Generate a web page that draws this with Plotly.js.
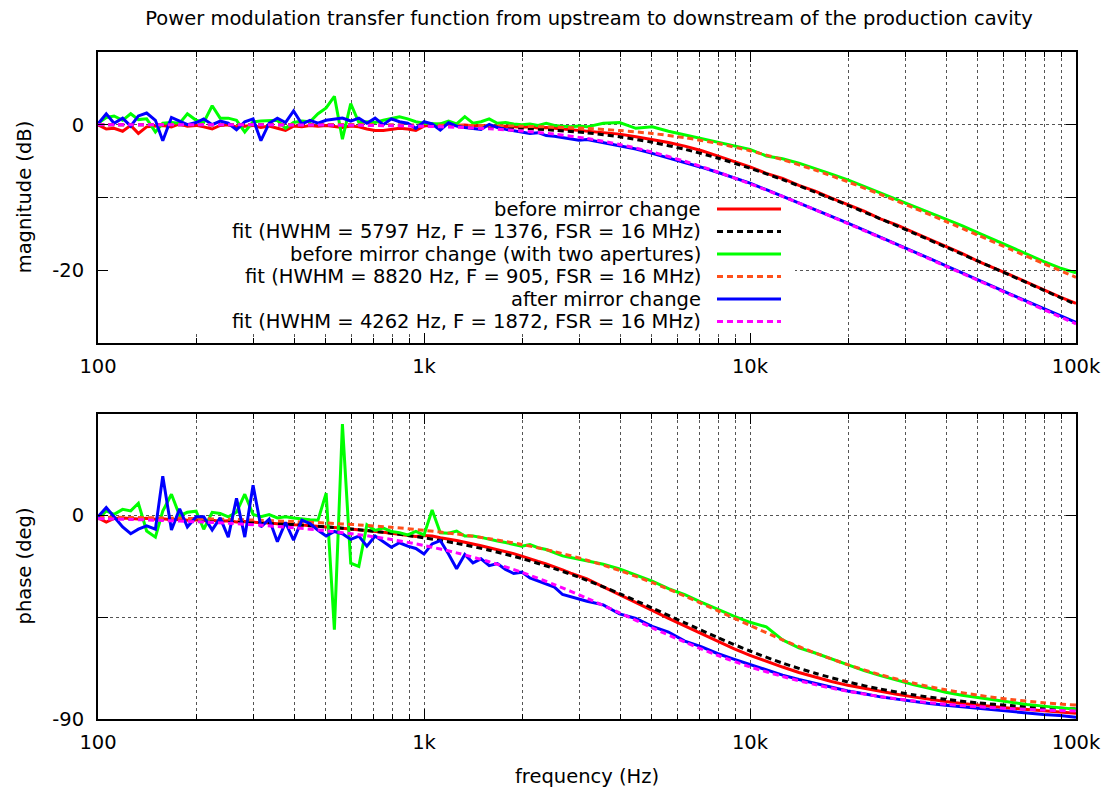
<!DOCTYPE html>
<html>
<head>
<meta charset="utf-8">
<script src="https://cdn.plot.ly/plotly-3.0.1.min.js"></script>
<style>html,body{margin:0;padding:0;background:#fff;}#chart{width:1104px;height:789px;}</style>
</head>
<body>
<div id="chart"></div>
<script>
// ---- measured frequency grid (Hz) ----
const freq = [100,106,112,119,126,133,141,150,158,168,178,188,200,211,224,237,251,266,282,299,
  316,335,355,376,398,422,447,473,501,531,562,596,631,668,708,750,794,841,891,944,
  1000,1059,1122,1189,1259,1334,1413,1496,1585,1679,1778,1884,1995,2113,2239,2371,2512,2661,2818,2985,
  3162,3548,3981,4467,5012,5623,6310,7079,7943,8913,10000,11220,12589,14125,15849,17783,19953,22387,25119,28184,
  31623,35481,39811,44668,50119,56234,63096,70795,79433,89125,100000];

// ---- fit frequency grid (Hz) ----
const fitFreq = [100,126,158,200,251,316,398,501,631,794,1000,1259,1585,1995,2512,3162,3981,5012,6310,7943,
  10000,12589,15849,19953,25119,31623,39811,50119,63096,79433,100000];

// ---- magnitude (dB) ----
const magBefore = [0.0,-0.6,-0.5,-0.9,-0.1,-1.2,-0.3,-0.2,-0.1,-0.3,0.1,-0.2,-0.1,-0.3,-0.6,-0.1,0.0,-0.3,-0.2,-0.1,
  -0.4,-0.2,-0.5,-0.8,-0.2,-0.3,-0.1,-0.2,-0.1,-0.3,-0.4,-0.2,-0.3,-0.6,-0.8,-0.8,-0.7,-0.5,-0.6,-0.8,
  -0.2,0.0,0.1,0.1,-0.1,-0.05,-0.15,-0.1,-0.2,-0.25,-0.2,-0.3,-0.35,-0.3,-0.45,-0.4,-0.5,-0.55,-0.6,-0.7,
  -0.8,-1.05,-1.3,-1.65,-2.0,-2.45,-2.95,-3.55,-4.3,-5.05,-5.8,-6.7,-7.4,-8.35,-9.15,-10.1,-11.0,-11.9,-12.95,-13.8,
  -14.8,-15.75,-16.8,-17.7,-18.8,-19.7,-20.7,-21.7,-22.75,-23.7,-24.6];
const magBeforeFit = [-0.001,-0.002,-0.003,-0.005,-0.008,-0.013,-0.020,-0.032,-0.051,-0.081,-0.127,-0.200,-0.315,-0.495,-0.774,
  -1.131,-1.677,-2.424,-3.394,-4.589,-5.994,-7.571,-9.282,-11.09,-12.96,-14.88,-16.83,-18.79,-20.77,-22.76,-24.75];
const magApert = [0.2,1.0,1.2,0.6,1.5,0.7,0.8,-1.0,0.2,0.3,0.2,1.5,0.6,0.3,2.6,0.9,0.9,0.6,-1.0,0.4,
  0.5,0.6,0.6,-0.5,0.3,0.5,0.4,1.5,2.3,3.9,-2.0,2.9,0.3,0.4,0.3,0.6,0.9,1.1,0.8,0.4,
  0.2,0.2,0.1,0.5,0.1,1.1,0.2,0.4,0.8,0.2,0.3,0.1,0.0,0.1,-0.1,0.2,-0.1,-0.2,-0.3,-0.2,
  -0.3,0.2,0.3,-0.5,-0.3,-0.9,-1.4,-1.85,-2.4,-2.9,-3.4,-4.3,-4.7,-5.3,-6.0,-6.8,-7.6,-8.5,-9.4,-10.2,
  -11.1,-12.0,-12.9,-13.9,-14.9,-15.9,-16.9,-17.8,-18.8,-19.7,-20.4];
const magApertFit = [-0.001,-0.001,-0.001,-0.002,-0.004,-0.006,-0.009,-0.014,-0.022,-0.035,-0.056,-0.088,-0.138,-0.217,-0.340,
  -0.525,-0.806,-1.215,-1.795,-2.579,-3.590,-4.824,-6.262,-7.866,-9.596,-11.415,-13.30,-15.22,-17.17,-19.10,-21.0];
const magAfter = [0.1,1.5,0.2,0.9,-0.2,1.2,1.6,0.6,-2.2,1.0,0.5,0.0,0.3,0.8,0.0,0.5,0.2,-0.7,0.4,0.8,
  -2.2,0.2,0.9,0.3,1.9,0.1,0.6,0.2,0.6,0.8,0.9,0.5,0.9,0.2,0.9,0.0,0.8,0.4,0.2,-0.5,
  0.4,0.1,-0.75,0.25,-0.2,-0.4,-0.5,-0.65,0.05,-0.4,-0.65,-0.85,-1.0,-1.2,-1.1,-1.5,-1.6,-1.75,-1.95,-2.15,
  -2.05,-2.45,-2.95,-3.35,-3.95,-4.55,-5.15,-5.85,-6.55,-7.25,-8.05,-8.95,-9.85,-10.75,-11.65,-12.6,-13.55,-14.5,-15.45,-16.5,
  -17.45,-18.4,-19.4,-20.35,-21.4,-22.35,-23.35,-24.3,-25.35,-26.3,-27.2];
const magAfterFit = [-0.002,-0.004,-0.006,-0.010,-0.015,-0.024,-0.038,-0.060,-0.094,-0.148,-0.233,-0.363,-0.563,-0.861,-1.295,
  -1.905,-2.724,-3.771,-5.040,-6.506,-8.133,-9.879,-11.71,-13.60,-15.53,-17.49,-19.46,-21.44,-23.43,-25.42,-27.42];

// ---- phase (deg) ----
const phBefore = [-1.0,-2.8,-1.2,-1.0,-1.3,-1.5,-1.2,-1.6,-1.4,-1.8,-1.6,-2.0,-1.8,-2.2,-2.0,-2.5,-2.3,-2.8,-2.6,-3.0,
  -3.1,-3.2,-3.6,-3.5,-4.0,-4.1,-4.5,-4.6,-5.0,-5.2,-5.5,-5.9,-6.2,-6.5,-7.0,-7.3,-7.8,-8.2,-8.6,-9.2,
  -8.8,-9.0,-9.8,-10.3,-11.0,-11.8,-12.4,-13.3,-14.2,-15.0,-15.9,-16.8,-17.9,-19.2,-20.3,-21.4,-22.6,-24.0,-25.4,-26.6,
  -28.0,-31.5,-34.9,-38.4,-41.9,-45.5,-48.9,-52.2,-55.5,-58.8,-61.8,-64.5,-67.0,-69.4,-71.5,-73.4,-75.1,-76.5,-77.8,-79.0,
  -80.2,-81.3,-82.3,-83.1,-83.9,-84.6,-85.2,-85.8,-86.4,-87.0,-87.4];
const phBeforeFit = [-0.99,-1.24,-1.56,-1.98,-2.48,-3.12,-3.93,-4.94,-6.21,-7.80,-9.79,-12.25,-15.29,-18.99,-23.43,
  -28.61,-34.48,-40.85,-47.42,-53.88,-59.90,-65.27,-69.75,-73.59,-76.74,-79.27,-81.28,-82.85,-84.05,-84.94,-85.56];
const phApert = [-1.6,2.1,0.6,2.8,2.1,5.5,-6.8,-9.5,2.0,9.5,0.0,1.5,2.0,-6.0,1.5,1.0,-0.5,1.5,9.5,0.5,
  -0.5,0.5,-1.0,-0.5,-1.0,-1.5,-1.8,-2.0,10.0,-50.5,40.5,-21.0,-22.5,-4.0,-6.5,-5.5,-7.0,-7.5,-8.5,-7.0,
  -8.5,2.5,-7.6,-7.8,-6.8,-9.0,-9.0,-9.6,-10.5,-11.2,-11.9,-12.6,-13.5,-12.8,-14.2,-15.0,-16.5,-17.8,-18.5,-19.3,
  -20.2,-21.5,-23.6,-26.2,-29.0,-32.3,-35.0,-38.3,-41.4,-44.5,-47.2,-49.2,-55.0,-58.5,-60.8,-63.4,-65.7,-68.6,-70.8,-72.9,
  -74.8,-76.4,-78.2,-79.5,-80.6,-81.6,-82.6,-83.6,-84.3,-85.0,-85.7];
const phApertFit = [-0.65,-0.82,-1.03,-1.30,-1.63,-2.05,-2.58,-3.25,-4.09,-5.14,-6.47,-8.12,-10.19,-12.75,-15.90,
  -19.72,-24.29,-29.61,-35.58,-42.01,-48.59,-54.98,-60.77,-65.96,-70.40,-74.09,-77.08,-79.47,-81.35,-82.78,-83.85];
const phAfter = [-0.5,3.6,-0.5,-5.0,-8.0,-6.0,-4.5,-6.0,17.5,-6.3,3.0,-5.0,-0.5,-0.5,-6.3,-1.0,-9.5,7.7,-9.5,13.5,
  -5.0,-1.5,-11.5,-3.0,-10.8,-2.0,-3.5,-6.5,-9.0,-7.0,-8.0,-10.5,-9.0,-13.5,-9.0,-11.5,-14.0,-12.0,-13.5,-14.5,
  -17.0,-12.5,-11.0,-17.0,-23.5,-17.2,-20.9,-19.1,-22.1,-21.2,-23.8,-25.6,-25.0,-27.6,-29.0,-30.5,-31.6,-34.9,-36.0,-36.9,
  -37.9,-39.5,-43.5,-45.5,-49.0,-51.5,-55.5,-58.0,-61.0,-63.5,-65.8,-68.0,-70.6,-72.5,-74.2,-75.8,-77.6,-78.8,-80.2,-81.2,
  -82.3,-83.1,-83.9,-84.6,-85.3,-86.2,-86.8,-87.3,-88.0,-88.5,-89.2];
const phAfterFit = [-1.34,-1.69,-2.12,-2.69,-3.37,-4.24,-5.34,-6.70,-8.42,-10.55,-13.21,-16.46,-20.40,-25.08,-30.52,
  -36.57,-43.04,-49.62,-55.96,-61.79,-66.92,-71.17,-74.78,-77.73,-80.10,-81.97,-83.45,-84.58,-85.43,-86.04,-86.44];

// ---- labels ----
const seriesNames = [
  'before mirror change',
  'fit (HWHM = 5797 Hz, F = 1376, FSR = 16 MHz)',
  'before mirror change (with two apertures)',
  'fit (HWHM = 8820 Hz, F = 905, FSR = 16 MHz)',
  'after mirror change',
  'fit (HWHM = 4262 Hz, F = 1872, FSR = 16 MHz)'
];
const xTickVals = [100, 1000, 10000, 100000];
const xTickText = ['100', '1k', '10k', '100k'];
const xMinorVals = [200,300,400,500,600,700,800,900,2000,3000,4000,5000,6000,7000,8000,9000,
  20000,30000,40000,50000,60000,70000,80000,90000];
const magTickVals = [-30, -20, -10, 0, 10];
const magTickText = ['', '-20', '', '0', ''];
const phTickVals = [-90, -45, 0, 45];
const phTickText = ['-90', '', '0', ''];
const titleText = 'Power modulation transfer function from upstream to downstream of the production cavity';

// ---- styles ----
const colors = ['#ff0000', '#000000', '#00ff00', '#ff4f1a', '#0000ff', '#ff00ff'];
const dashed = [false, true, false, true, false, true];
const DASH = '6px,4px';
const LW = 3;
const FS = 19.5;

const magData = [[freq, magBefore], [fitFreq, magBeforeFit], [freq, magApert], [fitFreq, magApertFit], [freq, magAfter], [fitFreq, magAfterFit]];
const phData = [[freq, phBefore], [fitFreq, phBeforeFit], [freq, phApert], [fitFreq, phApertFit], [freq, phAfter], [fitFreq, phAfterFit]];

const traces = [];
magData.forEach((d, i) => {
  traces.push({x: d[0], y: d[1], xaxis: 'x', yaxis: 'y', mode: 'lines', name: seriesNames[i], showlegend: false,
    line: {color: colors[i], width: LW, dash: dashed[i] ? DASH : 'solid', shape: dashed[i] ? 'spline' : 'linear', smoothing: 0.8}});
});
phData.forEach((d, i) => {
  traces.push({x: d[0], y: d[1], xaxis: 'x2', yaxis: 'y2', mode: 'lines', name: seriesNames[i], showlegend: false,
    line: {color: colors[i], width: LW, dash: dashed[i] ? DASH : 'solid', shape: dashed[i] ? 'spline' : 'linear', smoothing: 0.8}});
});

// ---- geometry (pixels of the 1104x789 figure) ----
const W = 1104, H = 789;
const L = 98, R = 1076, T = 52, B = 719;
const PW = R - L, PH = B - T;
const topBottomPx = 342.7, botTopPx = 414;
const px2x = p => (p - L) / PW;
const px2y = p => (B - p) / PH;

const gridStyle = {showgrid: true, gridcolor: '#555', gridwidth: 1, griddash: 'dot'};
function xAxis(anchor) {
  return Object.assign({
    type: 'log', range: [2, 5], domain: [0, 1], anchor: anchor,
    tickmode: 'array', tickvals: xTickVals, ticktext: xTickText,
    ticks: 'inside', ticklen: 10, tickwidth: 1, tickcolor: '#000',
    showline: true, linecolor: '#000', linewidth: 2, mirror: 'allticks', zeroline: false,
    ticklabelstandoff: 5,
    minor: Object.assign({tickmode: 'array', tickvals: xMinorVals, ticks: 'inside', ticklen: 5, tickwidth: 1, tickcolor: '#000'}, gridStyle)
  }, gridStyle);
}
function yAxis(anchor, domain, range, tv, tt) {
  return Object.assign({
    domain: domain, range: range, anchor: anchor,
    tickmode: 'array', tickvals: tv, ticktext: tt,
    ticks: 'inside', ticklen: 10, tickwidth: 1, tickcolor: '#000',
    showline: true, linecolor: '#000', linewidth: 2, mirror: 'allticks', zeroline: false,
    ticklabelstandoff: 8
  }, gridStyle);
}

// ---- legend (text right-aligned, sample to the right) with opaque key box ----
const rowPx = [209, 231.5, 254, 276.5, 299, 321.5];
const textRightPx = 703, sampleX0 = 717, sampleX1 = 781;
const annotations = [];
const whiteBox = (x0, x1, y0, y1) => ({type: 'rect', xref: 'paper', yref: 'paper', layer: 'above',
  x0: px2x(x0), x1: px2x(x1), y0: px2y(y1), y1: px2y(y0), fillcolor: '#ffffff', line: {width: 0}});
const shapes = [whiteBox(108.5, 760, 199, 332), whiteBox(760, 795, 205, 332)];
seriesNames.forEach((name, i) => {
  annotations.push({xref: 'paper', yref: 'paper', x: px2x(textRightPx), y: px2y(rowPx[i]),
    xanchor: 'right', yanchor: 'middle', text: name, showarrow: false, font: {size: FS}});
  shapes.push({type: 'line', xref: 'paper', yref: 'paper', layer: 'above',
    x0: px2x(sampleX0), x1: px2x(sampleX1), y0: px2y(rowPx[i]), y1: px2y(rowPx[i]),
    line: {color: colors[i], width: LW, dash: dashed[i] ? DASH : 'solid'}});
});
// axis titles
annotations.push({xref: 'paper', yref: 'paper', x: px2x(24), y: px2y((T + topBottomPx) / 2), textangle: -90,
  xanchor: 'center', yanchor: 'middle', text: 'magnitude (dB)', showarrow: false, font: {size: FS}});
annotations.push({xref: 'paper', yref: 'paper', x: px2x(24), y: px2y((botTopPx + B) / 2), textangle: -90,
  xanchor: 'center', yanchor: 'middle', text: 'phase (deg)', showarrow: false, font: {size: FS}});
annotations.push({xref: 'paper', yref: 'paper', x: px2x((L + R) / 2), y: px2y(776),
  xanchor: 'center', yanchor: 'middle', text: 'frequency (Hz)', showarrow: false, font: {size: FS}});

const layout = {
  width: W, height: H,
  margin: {l: L, r: W - R, t: T, b: H - B, pad: 0},
  paper_bgcolor: '#ffffff', plot_bgcolor: '#ffffff',
  font: {family: 'DejaVu Sans, Liberation Sans, sans-serif', size: FS, color: '#000'},
  showlegend: false,
  title: {text: titleText, x: px2x((L + R) / 2 + 2), xref: 'paper', xanchor: 'center', y: 1 - 18 / H, yref: 'container', yanchor: 'middle', font: {size: FS}},
  xaxis: xAxis('y'),
  yaxis: yAxis('x', [px2y(topBottomPx), 1], [-30, 10], magTickVals, magTickText),
  xaxis2: xAxis('y2'),
  yaxis2: yAxis('x2', [0, px2y(botTopPx)], [-90, 45], phTickVals, phTickText),
  annotations: annotations,
  shapes: shapes
};

Plotly.newPlot('chart', traces, layout, {displayModeBar: false, staticPlot: true});
</script>
</body>
</html>
